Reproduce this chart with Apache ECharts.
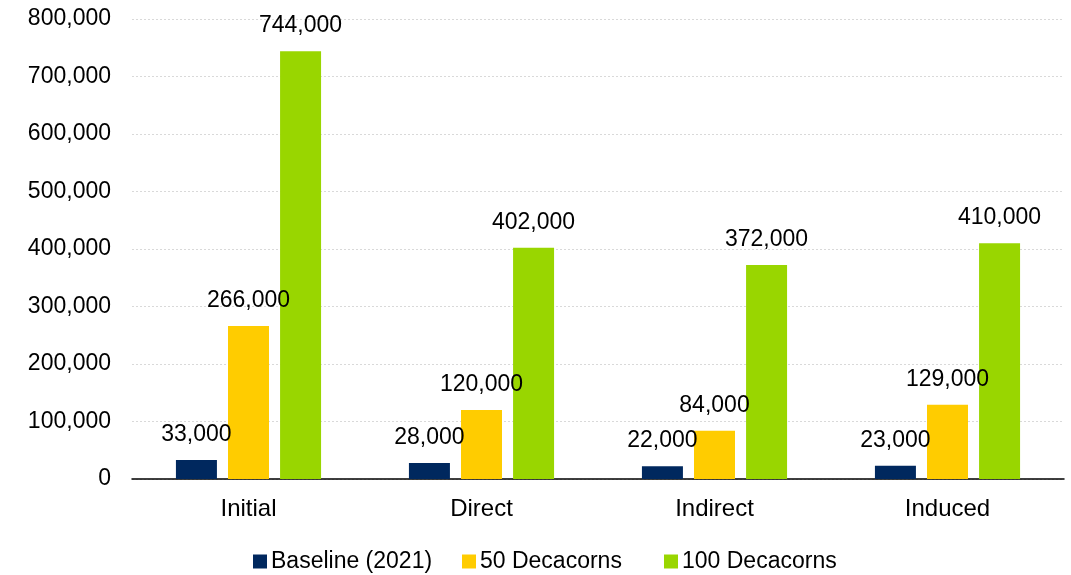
<!DOCTYPE html>
<html>
<head>
<meta charset="utf-8">
<script src="https://cdn.jsdelivr.net/npm/echarts@6/dist/echarts.min.js"></script>
<style>
  html, body { margin: 0; padding: 0; background: #fff; }
  #chart { width: 1071px; height: 575px; }
</style>
</head>
<body>
<div id="chart"></div>
<script>
const categories = ['Initial', 'Direct', 'Indirect', 'Induced'];
const seriesNames = ['Baseline (2021)', '50 Decacorns', '100 Decacorns'];
const baseline = [33000, 28000, 22000, 23000];
const decacorns50 = [266000, 120000, 84000, 129000];
const decacorns100 = [744000, 402000, 372000, 410000];
const colors = ['#00285E', '#FFCC00', '#99D600'];

const fmt = v => v.toString().replace(/\B(?=(\d{3})+(?!\d))/g, ',');
const font = '"Liberation Sans", Arial, sans-serif';

function bar(name, data, color) {
  return {
    name, type: 'bar', data, barWidth: 41, barGap: '27%',
    itemStyle: { color },
    label: {
      show: true, position: 'top', distance: 14,
      formatter: p => fmt(p.value),
      fontFamily: font, fontSize: 23, color: '#000'
    }
  };
}

// one legend entry per block so each key sits at its own x position
const legendLefts = [248, 457, 659];
const legends = seriesNames.map((name, i) => ({
  top: 545, left: legendLefts[i],
  itemWidth: 14, itemHeight: 14, itemGap: 0,
  icon: 'rect',
  textStyle: { fontFamily: font, fontSize: 23, color: '#000', padding: [0, 0, 0, -1] },
  data: [name]
}));

const chart = echarts.init(document.getElementById('chart'));
chart.setOption({
  animation: false,
  color: colors,
  grid: { left: 132, right: 7, top: 19, bottom: 96 },
  legend: legends,
  xAxis: {
    type: 'category', data: categories,
    axisLine: { lineStyle: { color: '#000', width: 1.5 } },
    axisTick: { show: false },
    axisLabel: { fontFamily: font, fontSize: 24, color: '#000', margin: 18 }
  },
  yAxis: {
    type: 'value', min: 0, max: 800000, interval: 100000,
    axisLine: { show: false },
    axisTick: { show: false },
    axisLabel: { fontFamily: font, fontSize: 23, color: '#000', margin: 21, formatter: v => fmt(v) },
    splitLine: { lineStyle: { color: '#D9D9D9', type: [2, 2], width: 1 } }
  },
  series: [
    bar(seriesNames[0], baseline, colors[0]),
    bar(seriesNames[1], decacorns50, colors[1]),
    bar(seriesNames[2], decacorns100, colors[2])
  ]
});
</script>
</body>
</html>
